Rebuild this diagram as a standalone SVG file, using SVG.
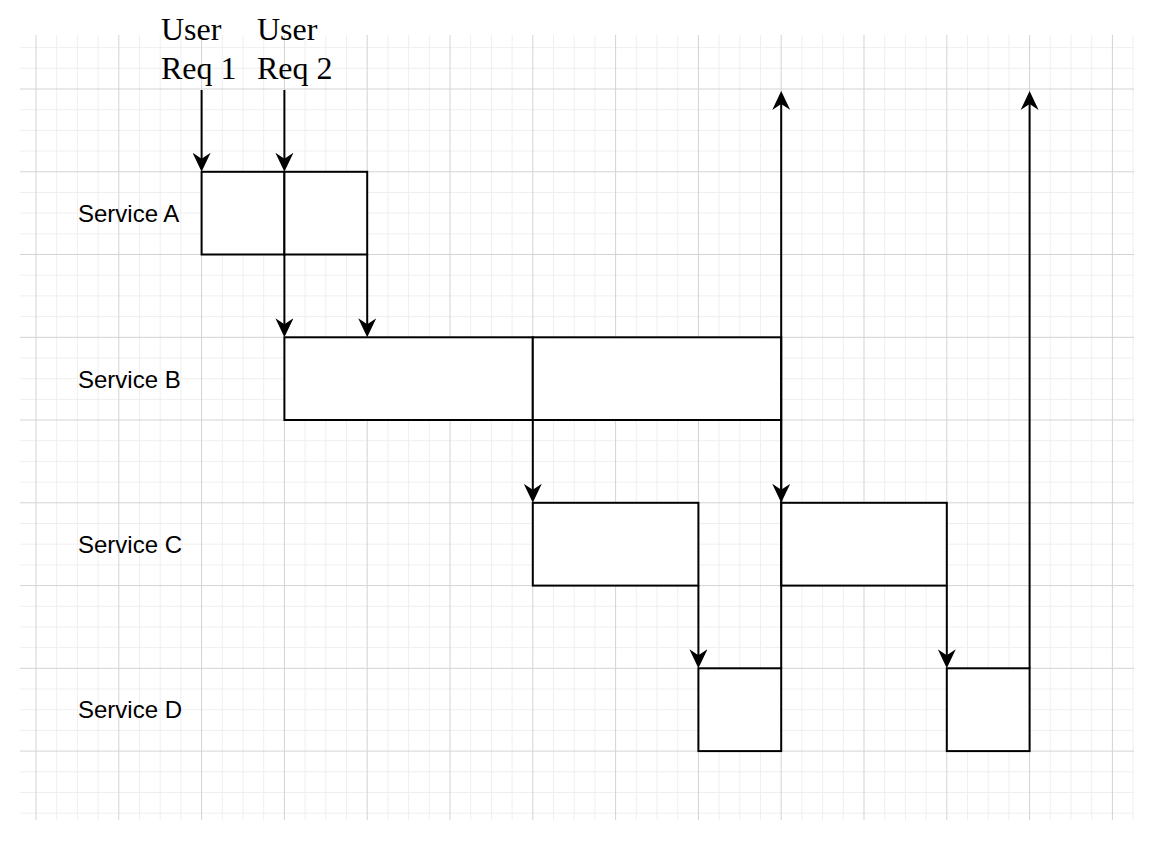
<svg xmlns="http://www.w3.org/2000/svg" width="1162" height="850" viewBox="0 0 1162 850">
<style>
.minor{stroke:#efefef;stroke-width:1;fill:none}
.major{stroke:#d3d3d3;stroke-width:1;fill:none}
.box{fill:#ffffff;stroke:#000000;stroke-width:2}
.edge{stroke:#000000;stroke-width:2;fill:none;marker-end:url(#arrow)}
.lane{font-family:"Liberation Sans",Arial,sans-serif;font-size:24px;fill:#000000}
.req{font-family:"Liberation Serif","Times New Roman",serif;font-size:32px;fill:#000000}
</style>
<defs>
<marker id="arrow" markerUnits="userSpaceOnUse" markerWidth="20" markerHeight="18" viewBox="0 0 19 18" refX="9" refY="9" orient="auto">
<path d="M19,9 L0,0 L6,9 L0,18 Z" fill="#000000"/>
</marker>
</defs>
<rect x="0" y="0" width="1162" height="850" fill="#ffffff"/>
<g id="grid">
<path class="minor" d="M56.7,35V820M77.4,35V820M98.1,35V820M139.5,35V820M160.2,35V820M180.9,35V820M222.3,35V820M243,35V820M263.7,35V820M305.1,35V820M325.8,35V820M346.5,35V820M387.9,35V820M408.6,35V820M429.3,35V820M470.7,35V820M491.4,35V820M512.1,35V820M553.5,35V820M574.2,35V820M594.9,35V820M636.3,35V820M657,35V820M677.7,35V820M719.1,35V820M739.8,35V820M760.5,35V820M801.9,35V820M822.6,35V820M843.3,35V820M884.7,35V820M905.4,35V820M926.1,35V820M967.5,35V820M988.2,35V820M1008.9,35V820M1050.3,35V820M1071,35V820M1091.7,35V820M1133.1,35V820
M20,47.6H1134M20,68.3H1134M20,109.7H1134M20,130.4H1134M20,151.1H1134M20,192.5H1134M20,213.1H1134M20,233.8H1134M20,275.2H1134M20,295.9H1134M20,316.6H1134M20,358H1134M20,378.7H1134M20,399.4H1134M20,440.7H1134M20,461.4H1134M20,482.1H1134M20,523.5H1134M20,544.2H1134M20,564.9H1134M20,606.3H1134M20,626.9H1134M20,647.6H1134M20,689H1134M20,709.7H1134M20,730.4H1134M20,771.8H1134M20,792.5H1134M20,813.2H1134"/>
<path class="major" d="M36,35V820M118.8,35V820M201.6,35V820M284.4,35V820M367.2,35V820M450,35V820M532.8,35V820M615.6,35V820M698.4,35V820M781.2,35V820M864,35V820M946.8,35V820M1029.6,35V820M1112.4,35V820
M20,89H1134M20,171.8H1134M20,254.5H1134M20,337.3H1134M20,420H1134M20,502.8H1134M20,585.6H1134M20,668.3H1134M20,751.1H1134"/>
</g>
<g id="labels">
<text class="lane" x="78" y="222.3">Service A</text>
<text class="lane" x="78" y="387.6">Service B</text>
<text class="lane" x="78" y="553">Service C</text>
<text class="lane" x="78" y="718.3">Service D</text>
<text class="req" x="161" y="40">User</text>
<text class="req" x="161" y="79">Req 1</text>
<text class="req" x="257" y="40">User</text>
<text class="req" x="257" y="79">Req 2</text>
</g>
<g id="service-a-1"><rect class="box" x="201.6" y="171.8" width="82.8" height="82.7"/></g>
<g id="service-a-2"><rect class="box" x="284.4" y="171.8" width="82.8" height="82.7"/></g>
<g id="service-b-1"><rect class="box" x="284.4" y="337.3" width="248.4" height="82.7"/></g>
<g id="service-b-2"><rect class="box" x="532.8" y="337.3" width="248.4" height="82.7"/></g>
<g id="service-c-1"><rect class="box" x="532.8" y="502.8" width="165.6" height="82.8"/></g>
<g id="service-c-2"><rect class="box" x="781.2" y="502.8" width="165.6" height="82.8"/></g>
<g id="service-d-1"><rect class="box" x="698.4" y="668.3" width="82.8" height="82.8"/></g>
<g id="service-d-2"><rect class="box" x="946.8" y="668.3" width="82.8" height="82.8"/></g>
<g id="connectors">
<path class="edge" d="M201.6,90V161.8"/>
<path class="edge" d="M284.4,90V161.8"/>
<path class="edge" d="M284.4,254.5V327.3"/>
<path class="edge" d="M367.2,254.5V327.3"/>
<path class="edge" d="M532.8,420V492.8"/>
<path class="edge" d="M781.2,420V492.8"/>
<path class="edge" d="M698.4,585.6V658.3"/>
<path class="edge" d="M946.8,585.6V658.3"/>
<path class="edge" d="M781.2,668.3V101"/>
<path class="edge" d="M1029.6,668.3V101"/>
</g>
</svg>
